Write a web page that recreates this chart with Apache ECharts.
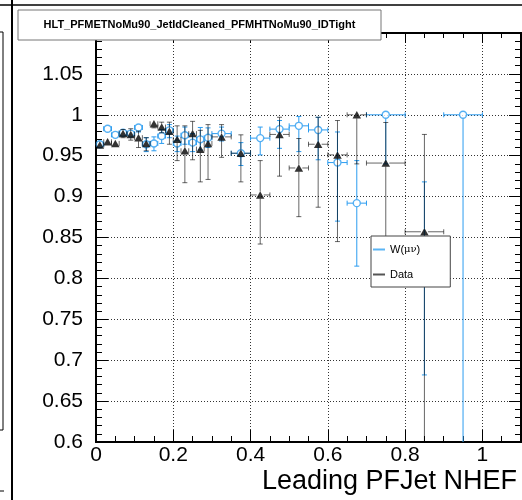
<!DOCTYPE html>
<html><head><meta charset="utf-8">
<script src="https://cdn.jsdelivr.net/npm/echarts@6/dist/echarts.min.js"></script>
<style>html,body{margin:0;padding:0;background:#fff}#c{width:522px;height:500px}</style>
</head><body><div id="c"></div>
<script>
const chartTitle = 'HLT_PFMETNoMu90_JetIdCleaned_PFMHTNoMu90_IDTight';
const xTitle = 'Leading PFJet NHEF';
const nameW = 'W(μν)';
const nameData = 'Data';
const xMin = 0, xMax = 1.1, yMin = 0.6, yMax = 1.1;

const binCenter = [0.01,0.03,0.05,0.07,0.09,0.11,0.13,0.15,0.17,0.19,0.21,0.23,0.25,0.27,0.29,
                   0.325,0.375,0.425,0.475,0.525,0.575,0.625,0.675,0.75,0.85,0.95];
const binHalfWidth = [0.01,0.01,0.01,0.01,0.01,0.01,0.01,0.01,0.01,0.01,0.01,0.01,0.01,0.01,0.01,
                      0.025,0.025,0.025,0.025,0.025,0.025,0.025,0.025,0.05,0.05,0.05];

const wEff  = [0.964,0.983,0.9755,0.978,0.977,0.9845,0.964,0.965,0.974,0.981,0.965,0.975,0.966,0.970,0.972,
               0.977,0.953,0.9715,0.9825,0.9865,0.9815,0.9416,0.892,1.0,0.80,1.0];
const wLow  = [0.960,0.978,0.971,0.973,0.972,0.979,0.955,0.956,0.965,0.972,0.955,0.964,0.955,0.957,0.960,
               0.968,0.938,0.951,0.959,0.955,0.945,0.870,0.815,0.940,0.682,0.55];
const wHigh = [0.968,0.987,0.980,0.982,0.982,0.989,0.972,0.973,0.982,0.988,0.974,0.985,0.977,0.9845,0.984,
               0.985,0.966,0.985,0.993,0.998,0.997,0.979,0.944,1.0,0.918,1.0];

const dataEff  = [0.963,0.967,0.965,0.977,0.976,0.972,0.965,0.989,0.985,0.980,0.970,0.956,0.977,0.958,0.965,
                  0.973,0.953,0.902,0.976,0.935,0.964,0.951,1.0,0.941,0.857];
const dataLow  = [0.959,0.963,0.961,0.972,0.969,0.960,0.956,0.984,0.978,0.964,0.944,0.917,0.945,0.918,0.921,
                  0.948,0.918,0.842,0.925,0.8755,0.887,0.845,0.940,0.800,0.55];
const dataHigh = [0.967,0.971,0.969,0.982,0.983,0.980,0.972,0.9935,0.991,0.991,0.9865,0.9865,0.992,0.981,0.988,
                  0.988,0.9755,0.944,0.997,0.971,0.997,0.993,1.0,0.9906,0.976];

const blue = '#2b9cf0';
const dataErrColor = 'rgba(0,0,0,0.6)';
const font = 'Liberation Sans';

function rows(eff, lo, hi) {
  return eff.map((v, i) => [binCenter[i], v, binCenter[i] - binHalfWidth[i], binCenter[i] + binHalfWidth[i], lo[i], hi[i]]);
}

function makeErrRender(color, gap) {
  return function (params, api) {
    const x = api.value(0), y = api.value(1), xl = api.value(2), xh = api.value(3), yl = api.value(4), yh = api.value(5);
    const c = api.coord([x, y]), L = api.coord([xl, y]), R = api.coord([xh, y]), B = api.coord([x, yl]), T = api.coord([x, yh]);
    const segs = [];
    const cap = 2.5;
    const add = (x1, y1, x2, y2) => segs.push({ type: 'line', shape: { x1, y1, x2, y2 }, style: { stroke: color, lineWidth: 1 } });
    if (c[0] - L[0] > 2) {
      if (c[0] - gap - L[0] > 0.5) add(L[0], c[1], c[0] - gap, c[1]);
      add(L[0], c[1] - cap, L[0], c[1] + cap);
    }
    if (R[0] - c[0] > 2) {
      if (R[0] - (c[0] + gap) > 0.5) add(c[0] + gap, c[1], R[0], c[1]);
      add(R[0], c[1] - cap, R[0], c[1] + cap);
    }
    if (c[1] - gap - T[1] > 0.5) { add(c[0], T[1], c[0], c[1] - gap); add(c[0] - cap, T[1], c[0] + cap, T[1]); }
    if (B[1] - (c[1] + gap) > 0.5) { add(c[0], c[1] + gap, c[0], B[1]); add(c[0] - cap, B[1], c[0] + cap, B[1]); }
    return { type: 'group', children: segs };
  };
}

const fmt = v => String(parseFloat(v.toFixed(2)));
const dotted = { show: true, lineStyle: { color: '#333', width: 1, type: [1, 2] } };

function xAx(position, interval, tickLen, withLabels, grid) {
  return {
    type: 'value', min: xMin, max: xMax, interval: interval, position: position,
    axisLine: { show: true, onZero: false, lineStyle: { color: '#000', width: 2 } },
    axisTick: { show: true, inside: true, length: tickLen, lineStyle: { color: '#000', width: 1 } },
    axisLabel: withLabels ? {
      show: true, margin: 3, fontSize: 21, color: '#000', fontFamily: font,
      formatter: v => Math.abs(v - xMax) < 1e-9 ? '' : fmt(v)
    } : { show: false },
    splitLine: grid ? dotted : { show: false },
    name: withLabels ? xTitle : '',
    nameLocation: 'end', nameGap: -4,
    nameTextStyle: { fontSize: 27, fontFamily: font, color: '#000', align: 'right', verticalAlign: 'top', padding: [26, 0, 0, 0] }
  };
}
function yAx(position, withLabels) {
  return {
    type: 'value', min: yMin, max: yMax, interval: 0.05, position: position,
    axisLine: { show: true, onZero: false, lineStyle: { color: '#000', width: 2 } },
    axisTick: { show: true, inside: true, length: 12, lineStyle: { color: '#000', width: 1 } },
    minorTick: { show: true, splitNumber: 5, length: 6, lineStyle: { color: '#000', width: 1 } },
    axisLabel: withLabels ? {
      show: true, margin: 13, fontSize: 21, color: '#000', fontFamily: font,
      formatter: v => Math.abs(v - yMax) < 1e-9 ? '' : fmt(v)
    } : { show: false },
    splitLine: withLabels ? dotted : { show: false }
  };
}

const lineIcon = 'path://M0,0 L12,0 L12,2 L0,2 Z';

const chart = echarts.init(document.getElementById('c'), null, { renderer: 'canvas' });
const option = {
  animation: false,
  backgroundColor: '#fff',
  grid: { left: 96, right: 1, top: 33, bottom: 58, containLabel: false, outerBoundsMode: 'none' },
  xAxis: [
    xAx('bottom', 0.05, 6, false, false),
    xAx('bottom', 0.2, 12, true, true),
    xAx('top', 0.05, 5, false, false),
    xAx('top', 0.2, 10, false, false)
  ],
  yAxis: [yAx('left', true), yAx('right', false)],
  legend: {
    show: true, orient: 'vertical', left: 371, top: 236, z: 20,
    padding: [8, 30, 7, 2], itemGap: 14, itemWidth: 12, itemHeight: 2,
    backgroundColor: '#fff', borderColor: '#444', borderWidth: 1, borderRadius: 0,
    selectedMode: false,
    textStyle: { fontFamily: font, fontSize: 11, color: '#000',
      rich: { a: { fontFamily: font, fontSize: 11, color: '#000' }, g: { fontFamily: 'DejaVu Serif', fontSize: 10, color: '#000' } } },
    formatter: n => n === nameW ? '{a|W(}{g|μν}{a|)}' : n,
    data: [
      { name: nameW, icon: lineIcon, itemStyle: { color: '#5bb5f5', borderWidth: 0 } },
      { name: nameData, icon: lineIcon, itemStyle: { color: '#555', borderWidth: 0 } }
    ]
  },
  series: [
    { type: 'custom', name: nameW, xAxisIndex: 1, yAxisIndex: 0, clip: true,
      itemStyle: { color: blue },
      data: rows(wEff, wLow, wHigh), encode: { x: 0, y: 1 },
      renderItem: makeErrRender(blue, 3.8), z: 2 },
    { type: 'scatter', name: nameW, xAxisIndex: 1, yAxisIndex: 0, clip: true,
      symbol: 'circle', symbolSize: 7,
      itemStyle: { color: '#fff', borderColor: blue, borderWidth: 1.4 },
      data: wEff.map((v, i) => [binCenter[i], v]), z: 3 },
    { type: 'custom', name: nameData, xAxisIndex: 1, yAxisIndex: 0, clip: true,
      itemStyle: { color: '#555' },
      data: rows(dataEff, dataLow, dataHigh), encode: { x: 0, y: 1 },
      renderItem: makeErrRender(dataErrColor, 3.5), z: 4 },
    { type: 'scatter', name: nameData, xAxisIndex: 1, yAxisIndex: 0, clip: true,
      symbol: 'triangle', symbolSize: [8.5, 7.5],
      itemStyle: { color: '#000' },
      data: dataEff.map((v, i) => [binCenter[i], v]), z: 5 }
  ],
  graphic: [
    { type: 'line', z: 100, shape: { x1: 0, y1: 5, x2: 522, y2: 5 }, style: { stroke: '#000', lineWidth: 1.5 } },
    { type: 'line', z: 100, shape: { x1: 12, y1: 0, x2: 12, y2: 500 }, style: { stroke: '#000', lineWidth: 2 } },
    { type: 'polyline', z: 100, shape: { points: [[0, 32], [3, 32], [3, 430], [0, 430]] }, style: { stroke: '#000', lineWidth: 1, fill: null } },
    { type: 'line', z: 100, shape: { x1: 0, y1: 491, x2: 4, y2: 491 }, style: { stroke: '#000', lineWidth: 1 } },
    { type: 'rect', z: 100, shape: { x: 18, y: 10, width: 363, height: 30 }, style: { fill: '#fff', stroke: '#777', lineWidth: 1 } },
    { type: 'text', z: 101, x: 199.5, y: 25, style: { text: chartTitle, font: 'bold 11px "Liberation Sans"', fill: '#000', align: 'center', verticalAlign: 'middle' } }
  ]
};
chart.setOption(option);
</script>
</body></html>
